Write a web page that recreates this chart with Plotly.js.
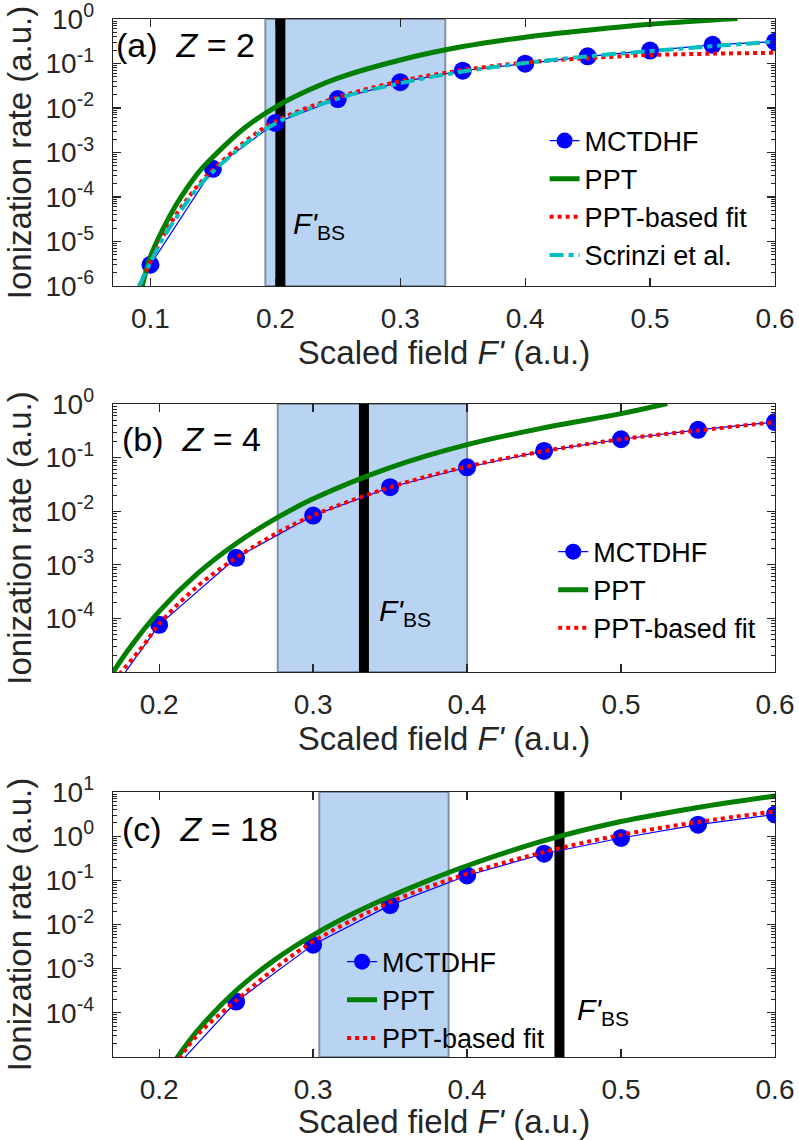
<!DOCTYPE html>
<html><head><meta charset="utf-8">
<script src="https://cdn.plot.ly/plotly-3.0.1.min.js"></script>
<style>html,body{margin:0;padding:0;background:#fff}#chart{width:799px;height:1140px}</style>
</head><body><div id="chart"></div>
<script>
// ---------- data ----------
// Panel (a) Z = 2
const aMctdhfX = [0.10,0.15,0.20,0.25,0.30,0.35,0.40,0.45,0.50,0.55,0.60];
const aMctdhfY = [3.0e-6,4.3e-4,4.6e-3,0.0159,0.038,0.069,0.099,0.145,0.195,0.263,0.31];
const aPptX = [0.093,0.10,0.11,0.12,0.13,0.14,0.15,0.175,0.20,0.225,0.25,0.30,0.35,0.40,0.45,0.50,0.57];
const aPptY = [8.9e-7,4.6e-6,1.9e-5,6.3e-5,1.7e-4,4.0e-4,7.9e-4,3.5e-3,0.0105,0.024,0.047,0.12,0.24,0.39,0.56,0.76,1.02];
const aFitX = [0.091,0.10,0.11,0.12,0.13,0.14,0.15,0.175,0.20,0.25,0.30,0.35,0.40,0.45,0.50,0.55,0.60];
const aFitY = [1.0e-6,3.5e-6,1.3e-5,3.8e-5,9.5e-5,2.1e-4,4.1e-4,1.7e-3,5.0e-3,0.0174,0.040,0.071,0.105,0.132,0.155,0.166,0.174];
const aScrX = [0.091,0.10,0.11,0.12,0.13,0.14,0.15,0.175,0.20,0.25,0.30,0.35,0.40,0.45,0.50,0.55,0.60];
const aScrY = [1.0e-6,3.4e-6,1.17e-5,3.2e-5,8.3e-5,1.9e-4,3.7e-4,1.5e-3,4.5e-3,0.0162,0.036,0.066,0.102,0.145,0.19,0.245,0.31];
// Panel (b) Z = 4
const bMctdhfX = [0.15,0.20,0.25,0.30,0.35,0.40,0.45,0.50,0.55,0.60];
const bMctdhfY = [7.5e-7,7.6e-5,1.35e-3,8.3e-3,0.028,0.066,0.133,0.22,0.33,0.46];
const bPptX = [0.168,0.18,0.20,0.225,0.25,0.275,0.30,0.35,0.40,0.45,0.50,0.53];
const bPptY = [8e-6,2.6e-5,1.35e-4,6.9e-4,2.5e-3,7.1e-3,0.017,0.065,0.174,0.36,0.66,1.02];
const bFitX = [0.174,0.19,0.20,0.225,0.25,0.275,0.30,0.35,0.40,0.45,0.50,0.55,0.60];
const bFitY = [9e-6,3.2e-5,7.9e-5,4.0e-4,1.35e-3,3.7e-3,8.3e-3,0.028,0.068,0.132,0.22,0.32,0.46];
// Panel (c) Z = 18
const cMctdhfX = [0.20,0.25,0.30,0.35,0.40,0.45,0.50,0.55,0.60];
const cMctdhfY = [2.3e-6,1.8e-4,3.5e-3,0.0275,0.129,0.40,0.91,1.82,3.1];
const cPptX = [0.21,0.225,0.25,0.275,0.30,0.325,0.35,0.375,0.40,0.45,0.50,0.55,0.60];
const cPptY = [8e-6,4e-5,3.2e-4,1.58e-3,5.75e-3,0.017,0.043,0.1,0.214,0.79,2.14,4.47,8.13];
const cFitX = [0.213,0.225,0.25,0.275,0.30,0.35,0.40,0.45,0.50,0.55,0.60];
const cFitY = [9e-6,3.2e-5,1.9e-4,1.0e-3,4.1e-3,0.032,0.141,0.437,1.07,2.09,3.63];

// shaded intervals and barrier-suppression fields
const bandA = [0.192, 0.336], fbsA = 0.204;
const bandB = [0.277, 0.400], fbsB = 0.333;
const bandC = [0.304, 0.388], fbsC = 0.460;

// tick labels
const xTickValsA = [0.1,0.2,0.3,0.4,0.5,0.6];
const xTickTextA = ["0.1","0.2","0.3","0.4","0.5","0.6"];
const xTickValsBC = [0.2,0.3,0.4,0.5,0.6];
const xTickTextBC = ["0.2","0.3","0.4","0.5","0.6"];
const yExpA = [-6,-5,-4,-3,-2,-1,0];
const yExpB = [-4,-3,-2,-1,0];
const yExpC = [-4,-3,-2,-1,0,1];

const panelLabels = ["(a)\u00a0 <i>Z</i> = 2","(b)\u00a0 <i>Z</i> = 4","(c)\u00a0 <i>Z</i> = 18"];
const seriesNames = ["MCTDHF","PPT","PPT-based fit","Scrinzi et al."];
const fbsLabel = "<i>F'</i><sub>BS</sub>";

// ---------- styling ----------
const FONT = "Liberation Sans, Arial, Helvetica, sans-serif";
const AX = "#262626";
const BLUE = "#0000ff", GREEN = "#007f00", RED = "#ff0000", CYAN = "#00bfbf";

function mctdhf(x, y, xa, ya, lg) {
  return {x, y, xaxis: xa, yaxis: ya, legend: lg, name: seriesNames[0], type: "scatter",
    mode: "lines+markers", line: {color: BLUE, width: 1.2}, marker: {color: BLUE, size: 18}};
}
function ppt(x, y, xa, ya, lg) {
  return {x, y, xaxis: xa, yaxis: ya, legend: lg, name: seriesNames[1], type: "scatter",
    mode: "lines", line: {color: GREEN, width: 5, shape: "spline"}};
}
function fit(x, y, xa, ya, lg) {
  return {x, y, xaxis: xa, yaxis: ya, legend: lg, name: seriesNames[2], type: "scatter",
    mode: "lines", line: {color: RED, width: 4, dash: "4px,4px", shape: "spline"}};
}
function scr(x, y, xa, ya, lg) {
  return {x, y, xaxis: xa, yaxis: ya, legend: lg, name: seriesNames[3], type: "scatter",
    mode: "lines", line: {color: CYAN, width: 4, dash: "14px,5px,5px,5px", shape: "spline"}};
}

const data = [
  mctdhf(aMctdhfX, aMctdhfY, "x", "y", "legend"),
  ppt(aPptX, aPptY, "x", "y", "legend"),
  fit(aFitX, aFitY, "x", "y", "legend"),
  scr(aScrX, aScrY, "x", "y", "legend"),
  mctdhf(bMctdhfX, bMctdhfY, "x2", "y2", "legend2"),
  ppt(bPptX, bPptY, "x2", "y2", "legend2"),
  fit(bFitX, bFitY, "x2", "y2", "legend2"),
  mctdhf(cMctdhfX, cMctdhfY, "x3", "y3", "legend3"),
  ppt(cPptX, cPptY, "x3", "y3", "legend3"),
  fit(cFitX, cFitY, "x3", "y3", "legend3")
];

function minorVals(lo, hi) {
  const v = [];
  for (let e = lo; e < hi; e++) for (let d = 2; d <= 9; d++) v.push(d * Math.pow(10, e));
  return v;
}

function xAxis(range, tv, tt, anchor) {
  return {range, anchor, tickmode: "array", tickvals: tv, ticktext: tt,
    ticks: "inside", ticklen: 8, tickwidth: 1.3, tickcolor: AX,
    showline: true, linecolor: AX, linewidth: 1.3, mirror: "allticks",
    showgrid: false, zeroline: false, ticklabelstandoff: 7, ticklabeloverflow: "allow",
    tickfont: {family: FONT, size: 28, color: AX},
    title: {text: "Scaled field <i>F'</i> (a.u.)", font: {family: FONT, size: 33, color: AX}, standoff: 0}};
}
function yAxis(exps, domain, anchor) {
  const lo = exps[0] - (exps.length === 7 ? 0 : 1);
  const hi = exps[exps.length - 1];
  return {type: "log", range: [lo, hi], domain, anchor, tickmode: "array",
    tickvals: exps.map(e => Math.pow(10, e)), ticktext: exps.map(e => "10<sup>" + e + "</sup>"),
    ticks: "inside", ticklen: 8, tickwidth: 1.3, tickcolor: AX,
    minor: {tickmode: "array", tickvals: minorVals(lo, hi), ticks: "inside", ticklen: 4, tickwidth: 1, tickcolor: AX, showgrid: false},
    showline: true, linecolor: AX, linewidth: 1.3, mirror: "allticks",
    showgrid: false, zeroline: false, ticklabelstandoff: 12, ticklabeloverflow: "allow",
    tickfont: {family: FONT, size: 28, color: AX},
    title: {text: "Ionization rate (a.u.)", font: {family: FONT, size: 33, color: AX}, standoff: 4}};
}

function band(xr, xref, yref) {
  return {type: "rect", xref, yref: yref + " domain", x0: xr[0], x1: xr[1], y0: 0, y1: 1,
    fillcolor: "#b9d4f3", line: {color: "#8090a8", width: 2}, layer: "below"};
}
function bsLine(x, xref, yref) {
  return {type: "line", xref, yref: yref + " domain", x0: x, x1: x, y0: 0, y1: 1,
    line: {color: "#000000", width: 10}, layer: "below"};
}

function legendBox(x, y) {
  return {x, y, xanchor: "left", yanchor: "top", bgcolor: "rgba(0,0,0,0)", borderwidth: 0,
    font: {family: FONT, size: 27, color: "#000"}, itemwidth: 30, tracegroupgap: 0};
}

function panelLabel(i, xref, yref, xshift, yshift) {
  return {text: panelLabels[i], xref: xref + " domain", yref: yref + " domain", x: 0, y: 1,
    xanchor: "left", yanchor: "top", xshift, yshift, showarrow: false,
    font: {family: FONT, size: 34, color: "#000"}};
}
function bsLabel(x, ylog, xref, yref) {
  return {text: fbsLabel, xref, yref, x, y: ylog, xanchor: "left", yanchor: "top",
    showarrow: false, font: {family: FONT, size: 30, color: "#000"}};
}

const layout = {
  width: 799, height: 1140,
  margin: {l: 113, r: 24, t: 19, b: 83},
  paper_bgcolor: "#fff", plot_bgcolor: "#fff",
  font: {family: FONT, color: AX},
  xaxis: xAxis([0.07, 0.6], xTickValsA, xTickTextA, "y"),
  yaxis: yAxis(yExpA, [0.7428, 1], "x"),
  xaxis2: xAxis([0.17, 0.6], xTickValsBC, xTickTextBC, "y2"),
  yaxis2: yAxis(yExpB, [0.3709, 0.6291], "x2"),
  xaxis3: xAxis([0.17, 0.6], xTickValsBC, xTickTextBC, "y3"),
  yaxis3: yAxis(yExpC, [0, 0.2553], "x3"),
  legend: legendBox(0.652, 0.906),
  legend2: legendBox(0.665, 0.510),
  legend3: legendBox(0.346, 0.115),
  shapes: [
    band(bandA, "x", "y"), bsLine(fbsA, "x", "y"),
    band(bandB, "x2", "y2"), bsLine(fbsB, "x2", "y2"),
    band(bandC, "x3", "y3"), bsLine(fbsC, "x3", "y3")
  ],
  annotations: [
    panelLabel(0, "x", "y", 1, -5),
    panelLabel(1, "x2", "y2", 7, -14),
    panelLabel(2, "x3", "y3", 7, -16),
    bsLabel(0.2128, -4.18, "x", "y"),
    bsLabel(0.3416, -3.50, "x2", "y2"),
    bsLabel(0.470, -3.50, "x3", "y3")
  ],
  showlegend: true
};

Plotly.newPlot("chart", data, layout, {staticPlot: true, displayModeBar: false});
</script></body></html>
